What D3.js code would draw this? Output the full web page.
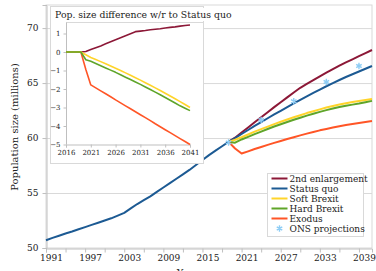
<!DOCTYPE html>
<html>
<head>
<meta charset="utf-8">
<script src="https://cdn.jsdelivr.net/npm/d3@7"></script>
<style>
  body { margin: 0; background: #fff; }
  svg { display: block; font-family: "DejaVu Serif", serif; }
</style>
</head>
<body>
<div id="chart"></div>
<script>
// main chart, millions
var years = d3.range(1991, 2042);
var statusQuo = [50.7, 50.92, 51.12, 51.32, 51.5, 51.7, 51.9, 52.1, 52.3, 52.5,
  52.7, 52.95, 53.2, 53.6, 54.0, 54.35, 54.7, 55.1, 55.5, 55.9,
  56.3, 56.7, 57.1, 57.55, 58.0, 58.45, 58.85, 59.25, 59.65, 60.0,
  60.37, 60.73, 61.1, 61.45, 61.8, 62.15, 62.48, 62.82, 63.15, 63.47,
  63.79, 64.1, 64.41, 64.71, 65.0, 65.28, 65.55, 65.8, 66.05, 66.3, 66.55];

// scenarios split off in 2019
var scenYears = d3.range(2019, 2042);
var enlargement = [59.65, 60.03, 60.5, 60.96, 61.43, 61.89, 62.35, 62.81, 63.25, 63.7,
  64.14, 64.57, 64.92, 65.26, 65.61, 65.94, 66.26, 66.58, 66.88, 67.16, 67.45, 67.73, 68.01];
var softBrexit = [59.65, 59.85, 60.07, 60.32, 60.58, 60.81, 61.04, 61.27, 61.48, 61.69,
  61.89, 62.08, 62.27, 62.44, 62.61, 62.77, 62.92, 63.05, 63.17, 63.27, 63.37, 63.46, 63.55];
var hardBrexit = [59.65, 59.58, 59.87, 60.11, 60.36, 60.59, 60.82, 61.05, 61.25, 61.46,
  61.66, 61.85, 62.04, 62.21, 62.38, 62.54, 62.69, 62.82, 62.94, 63.04, 63.14, 63.26, 63.38];
var exodus = [59.65, 59.05, 58.59, 58.79, 59.0, 59.19, 59.38, 59.56, 59.73, 59.91,
  60.08, 60.24, 60.4, 60.55, 60.7, 60.83, 60.96, 61.08, 61.19, 61.28, 61.37, 61.46, 61.55];

var onsYears = [2019, 2024, 2029, 2034, 2039];
var onsValues = [59.6, 61.65, 63.35, 65.1, 66.55];

// inset: difference to status quo
var diffYears = d3.range(2016, 2042);
var diffEnlargement = [0, 0, 0, 0, 0.03, 0.13, 0.23, 0.33, 0.44, 0.55, 0.66, 0.77, 0.88,
  0.99, 1.1, 1.13, 1.16, 1.2, 1.23, 1.26, 1.3, 1.33, 1.36, 1.4, 1.43, 1.46];
var diffSoft = [0, 0, 0, 0, -0.15, -0.3, -0.41, -0.52, -0.64, -0.76, -0.88, -1.0, -1.13,
  -1.26, -1.39, -1.52, -1.66, -1.8, -1.94, -2.08, -2.23, -2.38, -2.53, -2.68, -2.84, -3.0];
var diffHard = [0, 0, 0, 0, -0.42, -0.5, -0.62, -0.74, -0.86, -0.98, -1.1, -1.23, -1.36,
  -1.49, -1.62, -1.75, -1.89, -2.03, -2.17, -2.31, -2.46, -2.61, -2.76, -2.91, -3.04, -3.17];
var diffExodus = [0, 0, 0, 0, -0.95, -1.78, -1.94, -2.1, -2.26, -2.42, -2.59, -2.75, -2.91,
  -3.07, -3.23, -3.39, -3.55, -3.71, -3.88, -4.04, -4.2, -4.36, -4.52, -4.68, -4.84, -5.0];

var mainTicks = [50, 55, 60, 65, 70];
var insetTicks = [-5, -4, -3, -2, -1, 0, 1];
var insetYearTicks = [2016, 2021, 2026, 2031, 2036, 2041];

var COLORS = {
  enl: "#8c1837",
  sq: "#1c5a93",
  soft: "#ffd42a",
  hard: "#5fa529",
  exo: "#ff5526",
  ons: "#8ecdf5"
};
var GRID = "#d9d9d9";

var W = 376, H = 271;
var svg = d3.select("#chart").append("svg")
  .attr("width", W)
  .attr("height", H);

var x = d3.scaleLinear().domain([1991, 2041]).range([46, 372]);
var y = d3.scaleLinear().domain([50, 72.1]).range([248, 5]);

// plot frame + gridlines
svg.append("rect")
  .attr("x", 46).attr("y", 5)
  .attr("width", 326).attr("height", 243)
  .attr("fill", "none").attr("stroke", GRID);

svg.selectAll(".grid")
  .data(mainTicks.slice(1))
  .enter().append("line")
  .attr("class", "grid")
  .attr("x1", 46).attr("x2", 372)
  .attr("y1", function(d) { return y(d) + 0.5; })
  .attr("y2", function(d) { return y(d) + 0.5; })
  .attr("stroke", GRID);

// axes
var xAxis = svg.append("g")
  .attr("transform", "translate(0,248.5)")
  .call(d3.axisBottom(x)
    .tickValues(d3.range(1991, 2041, 3))
    .tickSize(4)
    .tickFormat(function(d) { return (d - 1991) % 6 === 0 ? d : ""; }));
xAxis.selectAll("text").attr("dx", 5).attr("dy", "0.6em");

var yAxis = svg.append("g")
  .attr("transform", "translate(46.5,0)")
  .call(d3.axisLeft(y).tickValues(mainTicks).tickSize(4));
yAxis.selectAll("text").attr("dx", -1);

svg.selectAll(".domain, .tick line").attr("stroke", "#bfbfbf");
svg.selectAll(".tick text").attr("fill", "#222").style("font-size", "9px")
  .style("font-family", "DejaVu Serif");

svg.append("text")
  .attr("transform", "translate(18,127) rotate(-90)")
  .attr("text-anchor", "middle")
  .attr("fill", "#222")
  .style("font-size", "10px")
  .text("Population size (millions)");

// axis title sits mostly below the frame, as in the original
svg.append("text")
  .attr("x", 188).attr("y", 275.5)
  .attr("text-anchor", "middle")
  .attr("fill", "#222")
  .style("font-size", "10px")
  .text("Year");

// series
var line = d3.line()
  .x(function(d) { return x(d[0]); })
  .y(function(d) { return y(d[1]); });

function zip(a, b) {
  return a.map(function(v, i) { return [v, b[i]]; });
}

var series = [
  { name: "2nd enlargement", color: COLORS.enl, yrs: scenYears, vals: enlargement },
  { name: "Status quo", color: COLORS.sq, yrs: years, vals: statusQuo },
  { name: "Soft Brexit", color: COLORS.soft, yrs: scenYears, vals: softBrexit },
  { name: "Hard Brexit", color: COLORS.hard, yrs: scenYears, vals: hardBrexit },
  { name: "Exodus", color: COLORS.exo, yrs: scenYears, vals: exodus }
];

svg.selectAll(".series")
  .data(series)
  .enter().append("path")
  .attr("class", "series")
  .attr("d", function(s) { return line(zip(s.yrs, s.vals)); })
  .attr("fill", "none")
  .attr("stroke", function(s) { return s.color; })
  .attr("stroke-width", 2)
  .attr("stroke-linejoin", "round");

var star = d3.symbol().type(d3.symbolAsterisk).size(28);
svg.selectAll(".ons")
  .data(zip(onsYears, onsValues))
  .enter().append("path")
  .attr("class", "ons")
  .attr("transform", function(d) { return "translate(" + x(d[0]) + "," + y(d[1]) + ")"; })
  .attr("d", star)
  .attr("fill", "none")
  .attr("stroke", COLORS.ons)
  .attr("stroke-width", 1.4);

// legend
var legend = svg.append("g").attr("transform", "translate(267.5,173.5)");
legend.append("rect")
  .attr("width", 96).attr("height", 63)
  .attr("fill", "#fff").attr("stroke", GRID);

var items = series.concat([{ name: "ONS projections", color: COLORS.ons, ons: true }]);
var li = legend.selectAll(".li")
  .data(items)
  .enter().append("g")
  .attr("class", "li")
  .attr("transform", function(d, i) { return "translate(0," + (5 + i * 10) + ")"; });

li.filter(function(d) { return !d.ons; }).append("line")
  .attr("x1", 4).attr("x2", 20)
  .attr("stroke", function(d) { return d.color; })
  .attr("stroke-width", 2);
li.filter(function(d) { return d.ons; }).append("path")
  .attr("transform", "translate(12,0)")
  .attr("d", star)
  .attr("fill", "none")
  .attr("stroke", COLORS.ons)
  .attr("stroke-width", 1.4);
li.append("text")
  .attr("x", 22).attr("dy", "0.35em")
  .attr("fill", "#222")
  .style("font-size", "9px")
  .text(function(d) { return d.name; });

// inset
var inset = svg.append("g");
inset.append("rect")
  .attr("x", 50.5).attr("y", 6.5)
  .attr("width", 153).attr("height", 157)
  .attr("fill", "#fff").attr("stroke", GRID);

var ix = d3.scaleLinear().domain([2016, 2041]).range([66, 190]);
var iy = d3.scaleLinear().domain([-5, 1]).range([144.5, 33.5]);

inset.append("line")
  .attr("x1", 66).attr("x2", 204)
  .attr("y1", 22.5).attr("y2", 22.5)
  .attr("stroke", GRID);

inset.append("rect")
  .attr("x", 52).attr("y", 8)
  .attr("width", 163).attr("height", 13)
  .attr("fill", "#fff");
inset.append("text")
  .attr("x", 55).attr("y", 18)
  .attr("fill", "#222")
  .style("font-size", "9.3px")
  .text("Pop. size difference w/r to Status quo");

var ixAxis = inset.append("g")
  .attr("transform", "translate(0,144.5)")
  .call(d3.axisBottom(ix).tickValues(insetYearTicks).tickSize(3).tickFormat(d3.format("d")));
var iyAxis = inset.append("g")
  .attr("transform", "translate(66.5,0)")
  .call(d3.axisLeft(iy).tickValues(insetTicks).tickSize(3).tickFormat(d3.format("d")));
iyAxis.select(".domain").attr("d", "M0,22.5V144.5");

inset.selectAll(".domain, .tick line").attr("stroke", "#bfbfbf");
inset.selectAll(".tick text").attr("fill", "#222").style("font-size", "7px")
  .style("font-family", "DejaVu Serif");

var iline = d3.line()
  .x(function(d) { return ix(d[0]); })
  .y(function(d) { return iy(d[1]); });

var insetSeries = [
  { color: COLORS.enl, vals: diffEnlargement },
  { color: COLORS.exo, vals: diffExodus },
  { color: COLORS.soft, vals: diffSoft },
  { color: COLORS.hard, vals: diffHard }
];
inset.selectAll(".iseries")
  .data(insetSeries)
  .enter().append("path")
  .attr("class", "iseries")
  .attr("d", function(s) { return iline(zip(diffYears, s.vals)); })
  .attr("fill", "none")
  .attr("stroke", function(s) { return s.color; })
  .attr("stroke-width", 1.6)
  .attr("stroke-linejoin", "round");
</script>
</body>
</html>
